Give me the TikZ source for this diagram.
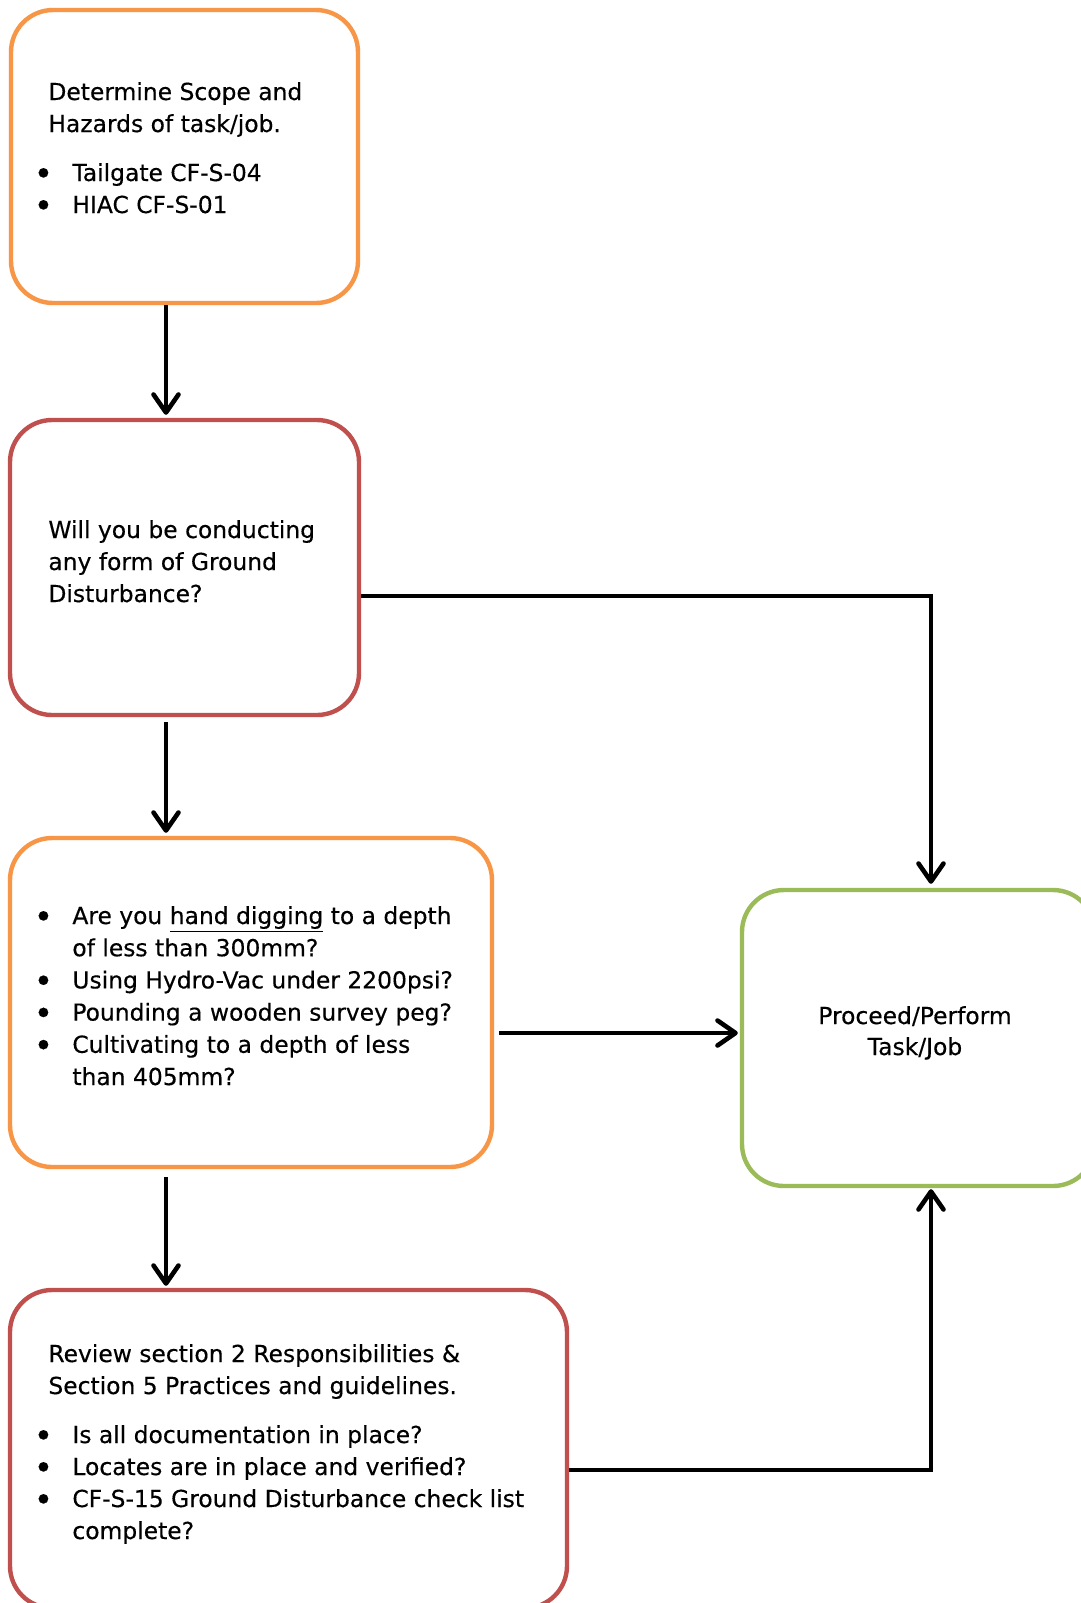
\documentclass[tikz,border=0pt]{standalone}
\usepackage{fontspec}
\setmainfont[FakeBold=0.35]{DejaVu Sans}
\usetikzlibrary{arrows.meta,calc}
\definecolor{boxorange}{HTML}{F79646}
\definecolor{boxred}{HTML}{C0504D}
\definecolor{boxgreen}{HTML}{9BBB59}
\newcommand{\bigbul}{\raisebox{-2pt}{\scalebox{1.4}{\textbullet}}}
\newcommand{\bl}[1]{\makebox[18.5pt][l]{\hspace*{-0.8pt}\bigbul}#1\par}
\newcommand{\cl}[1]{\hspace*{18.5pt}#1\par}
\newcommand{\pl}[1]{\hspace*{6.5pt}#1\par}
\newcommand{\tbox}[2]{\parbox[t]{#1}{\setlength\parindent{0pt}\setlength\parskip{0pt}\raggedright #2}}
\tikzset{
  flowbox/.style={draw, line width=2.2pt, rounded corners=21pt, inner sep=0pt, fill=white},
  boxtext/.style={anchor=base west, inner sep=0pt, font=\fontsize{11.7pt}{16pt}\selectfont},
  flowarrow/.style={draw=black, line width=2.3pt, -{Straight Barb[length=9pt,width=12.5pt,round]}},
}
\begin{document}
\begin{tikzpicture}[x=0.5pt,y=-0.5pt]
\clip (0,0) rectangle (1081,1603);
\fill[white] (0,0) rectangle (1081,1603);
% boxes
\node[flowbox, draw=boxorange, minimum width=173.5pt, minimum height=146.5pt] (box1) at (184.5,156.5) {};
\node[flowbox, draw=boxred, minimum width=174.5pt, minimum height=147.5pt] (box2) at (184.5,567.5) {};
\node[flowbox, draw=boxorange, minimum width=241pt, minimum height=164.5pt] (box3) at (251,1002.5) {};
\node[flowbox, draw=boxred, minimum width=278.5pt, minimum height=159pt] (box4) at (288.5,1449) {};
\node[flowbox, draw=boxgreen, minimum width=176.5pt, minimum height=148pt] (green) at (918.5,1038) {};
% texts
\node[boxtext] (t1) at (35,100) {\tbox{200pt}{\pl{Determine Scope and}\pl{Hazards of task/job.}\vspace{8.5pt}\bl{Tailgate CF-S-04}\bl{HIAC CF-S-01}}};
\node[boxtext] (t2) at (48,538) {\tbox{200pt}{Will you be conducting\par any form of Ground\par Disturbance?\par}};
\node[boxtext, font=\fontsize{11.7pt}{16.1pt}\selectfont] (t3) at (35,924) {\tbox{260pt}{\bl{Are you \underline{hand digging} to a depth}\cl{of less than 300mm?}\bl{Using Hydro-Vac under 2200psi?}\bl{Pounding a wooden survey peg?}\bl{Cultivating to a depth of less}\cl{than 405mm?}}};
\node[boxtext] (t4) at (35,1362) {\tbox{300pt}{\pl{Review section 2 Responsibilities \&}\pl{Section 5 Practices and guidelines.}\vspace{8.5pt}\bl{Is all documentation in place?}\bl{Locates are in place and verified?}\bl{CF-S-15 Ground Disturbance check list}\cl{complete?}}};
\node[anchor=base, inner sep=0pt, font=\fontsize{11.7pt}{15.5pt}\selectfont] (t5) at (915,1024) {\parbox[t]{150pt}{\centering Proceed/Perform\\Task/Job}};
% helper coordinates
\coordinate (ax) at (166,0);
\coordinate (rx) at (931,0);
\coordinate (ya) at (0,596);
\coordinate (yb) at (0,1033);
\coordinate (yc) at (0,1470);
% connectors
\draw[flowarrow, shorten >=1.5pt] (box1.south -| ax) -- (box2.north -| ax);
\draw[flowarrow, shorten <=2.5pt, shorten >=1.5pt] (box2.south -| ax) -- (box3.north -| ax);
\draw[flowarrow, shorten <=4pt, shorten >=1pt] (box3.south -| ax) -- (box4.north -| ax);
\draw[flowarrow, shorten >=2pt] (box2.east |- ya) -| (green.north -| rx);
\draw[flowarrow, shorten <=2.5pt, shorten >=1pt] (box3.east |- yb) -- (green.west |- yb);
\draw[flowarrow, shorten >=0.5pt] (box4.east |- yc) -| (green.south -| rx);
\end{tikzpicture}
\end{document}
